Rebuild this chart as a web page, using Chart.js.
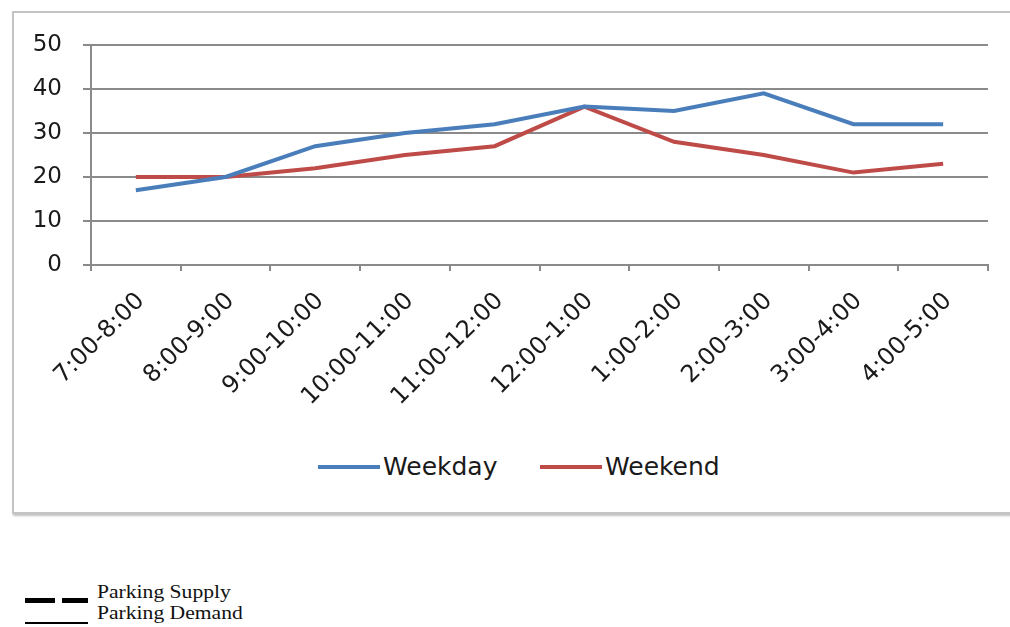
<!DOCTYPE html>
<html>
<head>
<meta charset="utf-8">
<script src="https://cdn.jsdelivr.net/npm/chart.js@4/dist/chart.umd.min.js"></script>
<style>
  html, body { margin: 0; padding: 0; background: #fff; width: 1010px; height: 627px; overflow: hidden; }
  #frame { position: absolute; left: 12px; top: 11px; width: 1010px; height: 499px;
           border: 2px solid #c4c4c4; box-shadow: 1px 2px 2px rgba(0,0,0,0.25); background: #fff; }
  #wrap { position: absolute; left: 0; top: 0; width: 1010px; height: 440px; }
  .item { position: absolute; top: 452px; display: flex; align-items: center;
          font-family: "DejaVu Sans", sans-serif; font-size: 25px; color: #1a1a1a; }
  .swatch { display: inline-block; width: 62px; height: 4px; margin-right: 3px; }
  #notes { position: absolute; left: 25px; top: 583px; font-family: "Liberation Serif", serif;
           font-size: 18px; color: #111; line-height: 19px; }
  .row { position: relative; height: 21px; }
  .row .txt { position: absolute; left: 72px; top: 0; white-space: nowrap;
              transform: scaleX(1.2); transform-origin: left center; }
  .dash { position: absolute; top: 15px; width: 30px; height: 5px; background: #000; }
  .solid { position: absolute; left: 0; top: 18px; width: 63px; height: 2px; background: #000; }
</style>
</head>
<body>
<div id="frame"></div>
<div id="wrap"><canvas id="chart" width="1010" height="440"></canvas></div>
<div id="notes">
  <div class="row"><span class="dash" style="left:0"></span><span class="dash" style="left:37px;width:26px"></span><span class="txt">Parking Supply</span></div>
  <div class="row"><span class="solid"></span><span class="txt">Parking Demand</span></div>
</div>
<script>
// Hourly time slots along the x axis
const timeSlots = ['7:00-8:00', '8:00-9:00', '9:00-10:00', '10:00-11:00', '11:00-12:00',
                   '12:00-1:00', '1:00-2:00', '2:00-3:00', '3:00-4:00', '4:00-5:00'];
// Parked vehicles per slot
const weekday = [17, 20, 27, 30, 32, 36, 35, 39, 32, 32];
const weekend = [20, 20, 22, 25, 27, 36, 28, 25, 21, 23];
// Value axis ticks
const yTicks = [0, 10, 20, 30, 40, 50];

const series = [
  { label: 'Weekday', data: weekday, color: '#4a7ebb', legendLeft: 318 },
  { label: 'Weekend', data: weekend, color: '#be4b48', legendLeft: 540 }
];

const gridColor = '#8a8a8a';

new Chart(document.getElementById('chart'), {
  type: 'line',
  data: {
    labels: timeSlots,
    datasets: series.map(s => ({
      label: s.label,
      data: s.data,
      borderColor: s.color,
      backgroundColor: s.color,
      borderWidth: 4,
      pointRadius: 0,
      tension: 0,
      fill: false
    }))
  },
  options: {
    responsive: false,
    animation: false,
    layout: { padding: { top: 45, right: 22, bottom: 0, left: 0 } },
    plugins: { legend: { display: false }, tooltip: { enabled: false } },
    scales: {
      x: {
        offset: true,
        grid: { offset: true, drawOnChartArea: false, drawTicks: true, tickLength: 6, color: gridColor, lineWidth: 2 },
        border: { color: gridColor, width: 2 },
        ticks: { minRotation: 45, maxRotation: 45, padding: 16, labelOffset: 5,
                 color: '#1a1a1a', font: { family: 'DejaVu Sans', size: 24 } },
        afterFit: s => { s.height = 175; }
      },
      y: {
        min: yTicks[0],
        max: yTicks[yTicks.length - 1],
        afterBuildTicks: s => { s.ticks = yTicks.map(v => ({ value: v })); },
        grid: { color: gridColor, lineWidth: 2, tickLength: 8 },
        border: { color: gridColor, width: 2 },
        ticks: { padding: 21, color: '#1a1a1a', font: { family: 'DejaVu Sans', size: 23 } },
        afterFit: s => { s.width = 91; }
      }
    }
  }
});

// Legend below the plot
series.forEach(s => {
  const item = document.createElement('div');
  item.className = 'item';
  item.style.left = s.legendLeft + 'px';
  const sw = document.createElement('span');
  sw.className = 'swatch';
  sw.style.background = s.color;
  const tx = document.createElement('span');
  tx.textContent = s.label;
  item.appendChild(sw);
  item.appendChild(tx);
  document.body.appendChild(item);
});
</script>
</body>
</html>
